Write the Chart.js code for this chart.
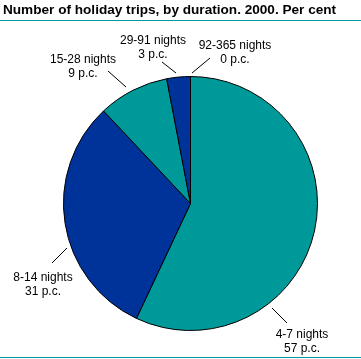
<!DOCTYPE html>
<html>
<head>
<meta charset="utf-8">
<script src="https://cdn.jsdelivr.net/npm/chart.js@4.4.4/dist/chart.umd.min.js"></script>
<style>
  html, body { margin: 0; padding: 0; background: #fff; }
  #wrap { width: 361px; height: 359px; position: relative; }
</style>
</head>
<body>
<div id="wrap"><canvas id="pie" width="361" height="359"></canvas></div>
<script>
// Holiday trips by duration, 2000 (per cent)
const durations = ['4-7 nights', '8-14 nights', '15-28 nights', '29-91 nights', '92-365 nights'];
const shares = [57, 31, 9, 3, 0];
const shareLabels = ['57 p.c.', '31 p.c.', '9 p.c.', '3 p.c.', '0 p.c.'];
const titleText = 'Number of holiday trips, by duration. 2000. Per cent';

const TEAL = '#009999';
const BLUE = '#003399';

// label text position + leader line end points, per slice
const labelSpots = [
    { x: 302, y: 335, line: [272, 308, 287, 323] },
    { x: 43, y: 278, line: [52, 263, 67, 248] },
    { x: 83, y: 60, line: [108, 71, 126, 87] },
    { x: 153, y: 41, line: [162, 62, 176, 73] },
    { x: 235, y: 46, line: [210, 58, 192, 73] }
];

const decorations = {
    id: 'decorations',
    afterDraw(chart) {
        const ctx = chart.ctx;
        ctx.save();
        // title and rules
        ctx.fillStyle = '#000';
        ctx.font = 'bold 13.6px "Liberation Sans", Arial, sans-serif';
        ctx.textAlign = 'left';
        ctx.textBaseline = 'middle';
        ctx.fillText(titleText, 3, 10);
        ctx.fillStyle = TEAL;
        ctx.fillRect(0, 20, 361, 1);
        ctx.fillRect(0, 357, 361, 1);

        // slice labels
        ctx.font = '12px "Liberation Sans", Arial, sans-serif';
        ctx.textAlign = 'center';
        ctx.fillStyle = '#000';
        ctx.strokeStyle = '#000';
        ctx.lineWidth = 1;
        labelSpots.forEach((s, i) => {
            ctx.fillText(durations[i], s.x, s.y);
            ctx.fillText(shareLabels[i], s.x, s.y + 14);
            ctx.beginPath();
            ctx.moveTo(s.line[0], s.line[1]);
            ctx.lineTo(s.line[2], s.line[3]);
            ctx.stroke();
        });
        ctx.restore();
    }
};

new Chart(document.getElementById('pie'), {
    type: 'pie',
    data: {
        labels: durations,
        datasets: [{
            data: shares,
            backgroundColor: [TEAL, BLUE, TEAL, BLUE, TEAL],
            borderColor: '#000',
            borderWidth: 1
        }]
    },
    options: {
        responsive: false,
        animation: false,
        layout: { padding: { left: 63, right: 43, top: 76, bottom: 28 } },
        plugins: {
            legend: { display: false },
            tooltip: { enabled: false }
        }
    },
    plugins: [decorations]
});
</script>
</body>
</html>
